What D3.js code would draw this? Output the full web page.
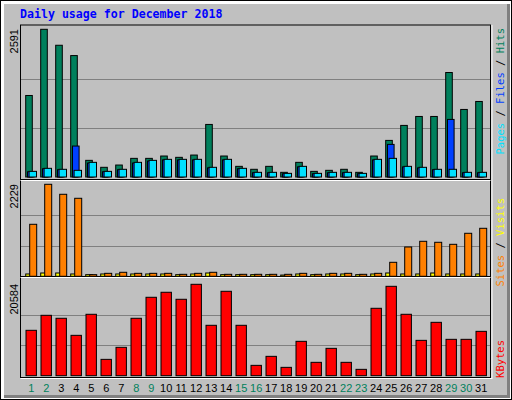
<!DOCTYPE html>
<html><head><meta charset="utf-8">
<script src="https://cdn.jsdelivr.net/npm/d3@7"></script>
<style>body{margin:0;background:#fff}</style></head>
<body><svg id="c" width="512" height="400"></svg>
<script>
const days = d3.range(1,32);
const weekend = [1,2,8,9,15,16,22,23,29,30];
const hits  = [1430,2591,2311,2130,292,170,210,327,327,368,345,385,922,368,187,135,187,82,257,99,117,135,82,368,642,905,1062,1062,1833,1185,1325];
const files = [92,145,128,543,245,92,128,245,280,300,300,300,160,300,145,75,75,58,178,58,75,75,58,300,572,178,160,128,1010,75,75];
const pages = [99,152,135,117,257,99,135,257,292,310,310,310,170,310,152,82,82,64,187,64,82,82,64,310,327,187,170,135,135,82,82];
const visits= [1260,2229,1987,1890,40,72,97,72,72,72,48,72,97,48,48,48,48,48,72,48,72,72,48,72,339,710,848,824,775,1042,1163];
const sites = [56,80,80,56,40,56,56,56,56,56,40,56,80,40,40,40,40,30,56,40,56,56,40,56,80,56,56,80,56,56,56];
const kbytes= [10220,13600,12930,9090,13830,3680,6390,12930,17660,18790,17210,20584,11350,19010,11350,2330,4360,1880,7740,3010,6160,3010,1430,15180,20130,13830,7960,12020,8190,8190,9990];
const maxHits=2591, maxVisits=2229, maxKB=20584;

const svg=d3.select("#c");
// frame
svg.append("rect").attr("x",0.5).attr("y",0.5).attr("width",511).attr("height",399).attr("fill","#fff").attr("stroke","#000");
svg.append("rect").attr("x",4).attr("y",4).attr("width",506).attr("height",394).attr("fill","#808080");
svg.append("rect").attr("x",4).attr("y",4).attr("width",503).attr("height",391).attr("fill","#c0c0c0");
svg.append("text").attr("x",20).attr("y",18).attr("fill","#0000ff").attr("font-family","DejaVu Sans Mono").attr("font-weight","bold").attr("font-size","11.6px").text("Daily usage for December 2018");

const L=20.5,R=490.5;
// plot box
svg.append("rect").attr("x",L).attr("y",25).attr("width",R-L).attr("height",352.5).attr("fill","none").attr("stroke","#000");
svg.append("line").attr("x1",R+1.5).attr("x2",R+1.5).attr("y1",25).attr("y2",379).attr("stroke","#fff");
svg.append("line").attr("x1",L).attr("x2",R+1.5).attr("y1",378.5).attr("y2",378.5).attr("stroke","#fff");
[180,277].forEach(y=>{
  svg.append("line").attr("x1",L).attr("x2",R).attr("y1",y-0.5).attr("y2",y-0.5).attr("stroke","#000");
  svg.append("line").attr("x1",L).attr("x2",R).attr("y1",y+0.5).attr("y2",y+0.5).attr("stroke","#fff");
});

const x=d3.scaleLinear().domain([1,31]).range([25.7,475.7]);
const y1=d3.scaleLinear().domain([0,maxHits]).range([177,29.3]);
const y2=d3.scaleLinear().domain([0,maxVisits]).range([276.3,184.3]);
const y3=d3.scaleLinear().domain([0,maxKB]).range([375.7,284.3]);

function grid(ys){ys.forEach(y=>svg.append("line").attr("x1",L+0.5).attr("x2",R-0.5).attr("y1",y).attr("y2",y).attr("stroke","#808080"));}
grid([y1(maxHits/3*1.0),y1(maxHits*2/3)].map(v=>Math.round(v)+0.5));
grid([y2(maxVisits/3),y2(maxVisits*2/3)].map(v=>Math.round(v)+0.5));
grid([y3(maxKB/3),y3(maxKB*2/3)].map(v=>Math.round(v)+0.5));

function bars(data,y,off,w,color){
  svg.append("g").selectAll("rect").data(data).join("rect")
   .attr("x",(d,i)=>x(days[i])+off).attr("y",d=>y(d)).attr("width",w)
   .attr("height",d=>Math.max(0,y(0)-y(d))).attr("fill",color).attr("stroke","#000").attr("stroke-width",1);
}
bars(hits,y1,0,6.6,"#00805c");
bars(files,y1,1.8,6.6,"#0040ff");
bars(pages,y1,3.4,7.4,"#00e0ff");
bars(sites,y2,0,6.6,"#ffff00");
bars(visits,y2,4,7,"#ff8000");
bars(kbytes,y3,0.3,10.4,"#ff0000");

// day labels
svg.append("g").selectAll("text").data(days).join("text")
 .attr("x",d=>x(d)+5.5).attr("y",392).attr("text-anchor","middle")
 .attr("font-family","Liberation Sans").attr("font-size","11px")
 .attr("fill",d=>weekend.includes(d)?"#00805c":"#000").text(d=>d);

// y max labels
[[maxHits,29],[maxVisits,184],[maxKB,284]].forEach(([v,yy])=>{
 svg.append("text").attr("transform",`translate(18,${yy}) rotate(-90)`).attr("text-anchor","end")
  .attr("font-family","Liberation Sans").attr("font-size","11px").attr("fill","#000").text(v);
});
function rlabel(yy,parts){
 const t=svg.append("text").attr("transform",`translate(504,${yy}) rotate(-90)`).attr("text-anchor","end")
  .attr("font-family","DejaVu Sans Mono").attr("font-size","10.5px");
 parts.forEach(([s,c])=>t.append("tspan").attr("fill",c).text(s));
}
rlabel(28,[["Pages","#00e0ff"],[" / ","#000"],["Files","#0040ff"],[" / ","#000"],["Hits","#00805c"]]);
rlabel(198,[["Sites","#ff8000"],[" / ","#000"],["Visits","#ffff00"]]);
rlabel(340,[["KBytes","#ff0000"]]);
</script></body></html>
